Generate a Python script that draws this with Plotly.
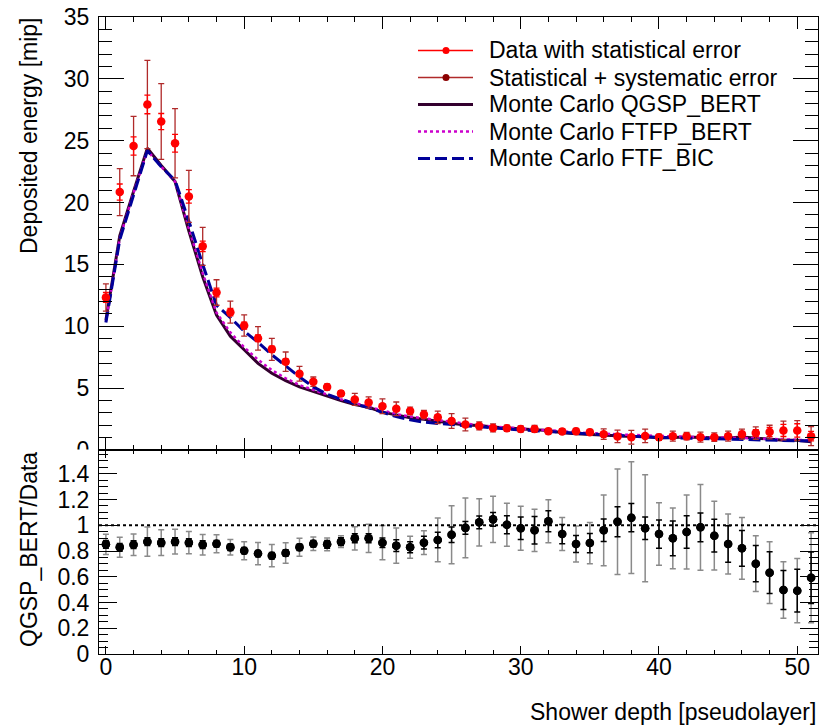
import plotly.graph_objects as go

# ---------------- data ----------------
layers = list(range(52))

data_energy = [12.33, 20.85, 24.57, 27.93, 26.55, 24.8, 20.5, 16.46, 12.73, 11.14,
               10.06, 9.03, 8.14, 7.14, 6.16, 5.52, 5.09, 4.57, 4.09, 3.84,
               3.54, 3.33, 3.16, 2.87, 2.64, 2.34, 2.06, 1.95, 1.78, 1.76,
               1.70, 1.70, 1.52, 1.50, 1.52, 1.44, 1.28, 1.10, 1.03, 1.14,
               1.03, 1.12, 1.12, 1.04, 1.04, 1.12, 1.28, 1.37, 1.45, 1.58,
               1.58, 1.12]
stat_err = [0.40, 0.65, 0.74, 0.75, 0.65, 0.72, 0.54, 0.43, 0.35, 0.30,
            0.28, 0.27, 0.25, 0.22, 0.18, 0.16, 0.15, 0.13, 0.13, 0.12,
            0.15, 0.18, 0.16, 0.16, 0.18, 0.15, 0.10, 0.09, 0.09, 0.12,
            0.15, 0.19, 0.12, 0.12, 0.12, 0.12, 0.12, 0.13, 0.11, 0.10,
            0.12, 0.17, 0.15, 0.12, 0.14, 0.19, 0.22, 0.28, 0.37, 0.49,
            0.54, 0.39]
total_err = [1.10, 1.90, 2.40, 3.57, 3.06, 2.80, 2.10, 1.54, 1.03, 0.89,
             0.86, 0.95, 0.89, 0.78, 0.60, 0.38, 0.25, 0.22, 0.49, 0.45,
             0.60, 0.55, 0.31, 0.34, 0.51, 0.60, 0.51, 0.32, 0.32, 0.25,
             0.25, 0.28, 0.22, 0.22, 0.22, 0.22, 0.42, 0.50, 0.55, 0.55,
             0.25, 0.40, 0.30, 0.40, 0.35, 0.40, 0.40, 0.50, 0.55, 0.75,
             0.80, 0.77]

mc_qgsp_bert = [10.5, 17.3, 20.9, 24.4, 23.0, 21.7, 17.7, 14.0, 10.9, 9.2,
                8.1, 7.0, 6.2, 5.6, 5.1, 4.73, 4.34, 3.99, 3.68, 3.45,
                3.06, 2.80, 2.60, 2.48, 2.35, 2.16, 2.02, 1.99, 1.86, 1.77,
                1.66, 1.63, 1.57, 1.40, 1.32, 1.26, 1.24, 1.14, 1.10, 1.10,
                0.98, 1.01, 1.06, 1.02, 0.96, 0.96, 1.05, 0.96, 0.92, 0.79,
                0.78, 0.66]
mc_ftfp_bert = [10.4, 17.1, 20.8, 24.2, 22.9, 21.7, 17.9, 14.3, 11.1, 9.5,
                8.3, 7.3, 6.45, 5.8, 5.25, 4.85, 4.45, 4.1, 3.8, 3.5,
                3.15, 2.9, 2.7, 2.55, 2.4, 2.25, 2.1, 2.0, 1.9, 1.8,
                1.72, 1.65, 1.6, 1.5, 1.42, 1.36, 1.32, 1.25, 1.22, 1.18,
                1.12, 1.08, 1.06, 1.04, 1.0, 0.98, 0.97, 0.94, 0.9, 0.85,
                0.82, 0.78]
mc_ftf_bic = [10.3, 17.0, 20.6, 24.2, 22.9, 21.8, 18.5, 15.0, 11.7, 10.7,
              9.6, 8.7, 7.7, 6.8, 5.9, 5.1, 4.5, 4.1, 3.75, 3.4,
              3.0, 2.7, 2.45, 2.25, 2.15, 2.05, 1.95, 1.85, 1.78, 1.7,
              1.62, 1.55, 1.48, 1.42, 1.35, 1.28, 1.22, 1.15, 1.1, 1.05,
              1.02, 0.98, 0.95, 0.92, 0.9, 0.88, 0.85, 0.82, 0.8, 0.78,
              0.75, 0.72]

ratio = [0.852, 0.829, 0.849, 0.873, 0.865, 0.873, 0.865, 0.849, 0.857, 0.829,
         0.803, 0.780, 0.764, 0.785, 0.829, 0.857, 0.852, 0.873, 0.899, 0.899,
         0.865, 0.842, 0.829, 0.865, 0.886, 0.927, 0.980, 1.023, 1.046, 1.005,
         0.977, 0.961, 1.031, 0.932, 0.855, 0.862, 0.961, 1.028, 1.059, 0.977,
         0.932, 0.899, 0.948, 0.984, 0.919, 0.855, 0.821, 0.702, 0.632, 0.497,
         0.492, 0.593]
ratio_stat = [0.03, 0.03, 0.03, 0.03, 0.03, 0.03, 0.03, 0.03, 0.025, 0.025,
              0.025, 0.025, 0.025, 0.025, 0.025, 0.025, 0.03, 0.03, 0.035, 0.035,
              0.037, 0.045, 0.043, 0.05, 0.06, 0.06, 0.05, 0.05, 0.053, 0.07,
              0.088, 0.107, 0.082, 0.075, 0.066, 0.075, 0.087, 0.117, 0.11, 0.088,
              0.11, 0.135, 0.127, 0.111, 0.127, 0.142, 0.139, 0.141, 0.162, 0.152,
              0.166, 0.2]
ratio_total = [0.078, 0.078, 0.083, 0.113, 0.10, 0.097, 0.087, 0.08, 0.07, 0.06,
               0.07, 0.087, 0.087, 0.08, 0.07, 0.053, 0.05, 0.045, 0.09, 0.11,
               0.133, 0.136, 0.085, 0.092, 0.17, 0.225, 0.233, 0.183, 0.179, 0.167,
               0.17, 0.164, 0.167, 0.128, 0.14, 0.16, 0.275, 0.41, 0.434, 0.416,
               0.243, 0.236, 0.287, 0.333, 0.267, 0.233, 0.24, 0.216, 0.24, 0.22,
               0.25, 0.35]

legend_labels = ["Data with statistical error", "Statistical + systematic error",
                 "Monte Carlo QGSP_BERT", "Monte Carlo FTFP_BERT", "Monte Carlo FTF_BIC"]

# ---------------- style ----------------
W, H = 832, 727
ML, MR, MT, MB = 99, 14, 17, 73
PW, PH = W - ML - MR, H - MT - MB
SPLIT = 204 / PH
FONT = "Liberation Sans, Arial, Helvetica, sans-serif"
FS = 23

C_RED = "#ff0000"
C_DRED = "#b02a2a"
C_QGSP = "#33002e"
C_FTFP = "#cc00cc"
C_BIC = "#000099"


def px(xp):
    return (xp - ML) / PW


def py(yp):
    return (H - MB - yp) / PH


fig = go.Figure()

# MC curves
fig.add_trace(go.Scatter(x=layers, y=mc_qgsp_bert, mode="lines",
                         line=dict(color=C_QGSP, width=3), xaxis="x", yaxis="y"))
fig.add_trace(go.Scatter(x=layers, y=mc_ftfp_bert, mode="lines",
                         line=dict(color=C_FTFP, width=2.5, dash="3px,3px"), xaxis="x", yaxis="y"))
fig.add_trace(go.Scatter(x=layers, y=mc_ftf_bic, mode="lines",
                         line=dict(color=C_BIC, width=3, dash="12px,5px"), xaxis="x", yaxis="y"))

# data with total error
fig.add_trace(go.Scatter(x=layers, y=data_energy, mode="markers",
                         marker=dict(color="#8b0000", size=7),
                         error_y=dict(type="data", array=total_err, color=C_DRED,
                                      thickness=1.3, width=3),
                         xaxis="x", yaxis="y"))
# data with stat error
fig.add_trace(go.Scatter(x=layers, y=data_energy, mode="markers",
                         marker=dict(color=C_RED, size=8.5),
                         error_y=dict(type="data", array=stat_err, color=C_RED,
                                      thickness=1.3, width=3),
                         xaxis="x", yaxis="y"))

# ratio panel
fig.add_trace(go.Scatter(x=layers, y=ratio, mode="markers",
                         marker=dict(color="black", size=8.5),
                         error_y=dict(type="data", array=ratio_total, color="#8a8a8a",
                                      thickness=1.5, width=3),
                         xaxis="x2", yaxis="y2"))
fig.add_trace(go.Scatter(x=layers, y=ratio, mode="markers",
                         marker=dict(color="black", size=8.5),
                         error_y=dict(type="data", array=ratio_stat, color="black",
                                      thickness=1.5, width=3),
                         xaxis="x2", yaxis="y2"))

axis_common = dict(showline=True, linecolor="black", linewidth=1, mirror="ticks",
                   ticks="inside", tickcolor="black", tickwidth=1,
                   showgrid=False, zeroline=False, automargin=False,
                   tickfont=dict(family=FONT, size=FS, color="black"))

fig.update_layout(
    width=W, height=H,
    margin=dict(l=ML, r=MR, t=MT, b=MB, pad=0, autoexpand=False),
    paper_bgcolor="white", plot_bgcolor="white",
    showlegend=False,
    font=dict(family=FONT, size=FS, color="black"),
    xaxis=dict(domain=[0, 1], range=[-0.5, 51.5], anchor="y",
               tickmode="linear", tick0=0, dtick=10, ticklen=12,
               showticklabels=False,
               minor=dict(ticks="inside", dtick=2, tick0=0, ticklen=5, tickcolor="black"),
               **axis_common),
    yaxis=dict(domain=[SPLIT, 1], range=[0, 35], anchor="x",
               tickmode="linear", tick0=0, dtick=5, ticklen=25,
               minor=dict(ticks="inside", dtick=1, tick0=0, ticklen=13, tickcolor="black"),
               ticklabelstandoff=4,
               **axis_common),
    xaxis2=dict(domain=[0, 1], range=[-0.5, 51.5], anchor="y2", matches="x",
                tickmode="linear", tick0=0, dtick=10, ticklen=8,
                minor=dict(ticks="inside", dtick=2, tick0=0, ticklen=4, tickcolor="black"),
                ticklabelstandoff=-8,
                **axis_common),
    yaxis2=dict(domain=[0, SPLIT], range=[0, 1.585], anchor="x2",
                tickmode="linear", tick0=0, dtick=0.2, ticklen=18,
                minor=dict(ticks="inside", dtick=0.05, tick0=0, ticklen=9, tickcolor="black"),
                ticklabelstandoff=4,
                **axis_common),
)

shapes = []
# reference line at ratio = 1
shapes.append(dict(type="line", xref="x2 domain", yref="y2", x0=0, x1=1, y0=1, y1=1,
                   line=dict(color="black", width=2, dash="dot"), layer="above"))
# hide the lower half of the top panel's "0" label (overlapped by ratio pad)
shapes.append(dict(type="rect", xref="paper", yref="paper",
                   x0=px(50), x1=px(97), y0=py(464), y1=py(449.6),
                   fillcolor="white", line=dict(width=0), layer="above"))

# manual legend
rows_y = [50.5, 77.5, 104.5, 131.5, 158.5]
lx0, lx1, dotx = 418, 473, 446
styles = [
    dict(color=C_RED, width=1.5),
    dict(color=C_DRED, width=1.5),
    dict(color=C_QGSP, width=3),
    dict(color=C_FTFP, width=2.5, dash="3px,3px"),
    dict(color=C_BIC, width=3, dash="12px,5px"),
]
for i, (ry, st) in enumerate(zip(rows_y, styles)):
    shapes.append(dict(type="line", xref="paper", yref="paper",
                       x0=px(lx0), x1=px(lx1), y0=py(ry), y1=py(ry), line=st))
    if i < 2:
        col = C_RED if i == 0 else "#8b0000"
        shapes.append(dict(type="circle", xref="paper", yref="paper",
                           x0=px(dotx - 3.5), x1=px(dotx + 3.5),
                           y0=py(ry + 3.5), y1=py(ry - 3.5),
                           fillcolor=col, line=dict(color=col, width=0)))

annotations = []
for ry, lab in zip(rows_y, legend_labels):
    annotations.append(dict(text=lab, xref="paper", yref="paper", x=px(487), y=py(ry),
                            xanchor="left", yanchor="middle", showarrow=False,
                            font=dict(family=FONT, size=FS, color="black")))

annotations.append(dict(text="Deposited energy [mip]", textangle=-90,
                        xref="paper", yref="paper", x=px(29), y=py(136),
                        xanchor="center", yanchor="middle", showarrow=False,
                        font=dict(family=FONT, size=FS, color="black")))
annotations.append(dict(text="QGSP_BERT/Data", textangle=-90,
                        xref="paper", yref="paper", x=px(29), y=py(550),
                        xanchor="center", yanchor="middle", showarrow=False,
                        font=dict(family=FONT, size=FS, color="black")))
annotations.append(dict(text="Shower depth [pseudolayer]",
                        xref="paper", yref="paper", x=1, y=py(712),
                        xanchor="right", yanchor="middle", showarrow=False,
                        font=dict(family=FONT, size=FS, color="black")))

fig.update_layout(shapes=shapes, annotations=annotations)

fig.write_html("out.html")
